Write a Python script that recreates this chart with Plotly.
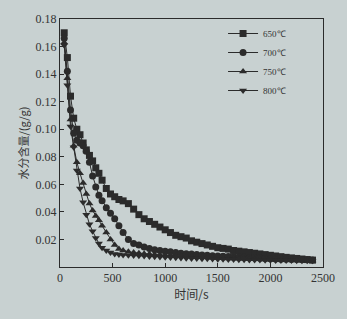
import plotly.graph_objects as go

t = [40, 70, 100, 130, 160, 190, 220, 250, 280, 310, 340, 370, 400, 440, 480, 520, 560, 600,
     650, 700, 750, 800, 850, 900, 950, 1000, 1050, 1100, 1150, 1200, 1250, 1300, 1350,
     1400, 1450, 1500, 1550, 1600, 1650, 1700, 1750, 1800, 1850, 1900, 1950, 2000, 2050,
     2100, 2150, 2200, 2250, 2300, 2350, 2400]

w650 = [0.170, 0.152, 0.124, 0.108, 0.100, 0.096, 0.090, 0.085, 0.081, 0.077, 0.072, 0.068,
        0.063, 0.057, 0.053, 0.051, 0.049, 0.048, 0.046, 0.042, 0.038, 0.035, 0.033, 0.031,
        0.029, 0.027, 0.025, 0.023, 0.022, 0.021, 0.019, 0.018, 0.017, 0.016, 0.015, 0.014,
        0.0135, 0.013, 0.012, 0.0115, 0.011, 0.0105, 0.010, 0.0095, 0.009, 0.0085, 0.008,
        0.0075, 0.007, 0.0066, 0.0062, 0.0058, 0.0054, 0.0050]

w700 = [0.166, 0.142, 0.114, 0.097, 0.092, 0.090, 0.088, 0.084, 0.076, 0.066, 0.058, 0.052,
        0.048, 0.043, 0.039, 0.035, 0.030, 0.025, 0.020, 0.017, 0.016, 0.0145, 0.0135, 0.0125,
        0.012, 0.0115, 0.011, 0.0105, 0.010, 0.0097, 0.0094, 0.0091, 0.0088, 0.0085, 0.0082,
        0.0080, 0.0078, 0.0076, 0.0074, 0.0072, 0.0070, 0.0068, 0.0066, 0.0064, 0.0062,
        0.0060, 0.0058, 0.0057, 0.0056, 0.0055, 0.0054, 0.0053, 0.0052, 0.0051]

w750 = [0.163, 0.137, 0.107, 0.088, 0.076, 0.068, 0.061, 0.053, 0.046, 0.041, 0.037, 0.034,
        0.030, 0.025, 0.020, 0.016, 0.013, 0.012, 0.011, 0.0105, 0.0100, 0.0097, 0.0094,
        0.0091, 0.0088, 0.0086, 0.0084, 0.0082, 0.0080, 0.0078, 0.0076, 0.0074, 0.0072,
        0.0070, 0.0068, 0.0066, 0.0064, 0.0062, 0.0061, 0.0060, 0.0059, 0.0058, 0.0057,
        0.0056, 0.0055, 0.0054, 0.0053, 0.0052, 0.0051, 0.0050, 0.0050, 0.0049, 0.0049,
        0.0048]

w800 = [0.161, 0.132, 0.102, 0.087, 0.070, 0.057, 0.047, 0.038, 0.031, 0.026, 0.021, 0.017,
        0.014, 0.012, 0.0105, 0.0095, 0.0090, 0.0088, 0.0085, 0.0083, 0.0081, 0.0079, 0.0077,
        0.0075, 0.0073, 0.0071, 0.0069, 0.0067, 0.0065, 0.0063, 0.0062, 0.0061, 0.0060,
        0.0059, 0.0058, 0.0057, 0.0056, 0.0055, 0.0054, 0.0053, 0.0052, 0.0051, 0.0050,
        0.0050, 0.0049, 0.0049, 0.0048, 0.0048, 0.0047, 0.0047, 0.0046, 0.0046, 0.0045,
        0.0045]

names = ["650℃", "700℃", "750℃", "800℃"]
series = [w650, w700, w750, w800]
symbols = ["square", "circle", "triangle-up", "triangle-down"]

ink = "#2b2b2b"
bg = "#c8d1d1"

fig = go.Figure()
for n, ys, s in zip(names, series, symbols):
    fig.add_trace(go.Scatter(
        x=t, y=ys, name=n, mode="lines+markers",
        line=dict(color=ink, width=1),
        marker=dict(symbol=s, size=7, color=ink),
    ))

serif = "Liberation Serif"
fig.update_layout(
    width=347, height=319,
    margin=dict(l=60, r=15, t=13, b=52),
    paper_bgcolor=bg, plot_bgcolor=bg,
    font=dict(family=serif, size=12, color="#333"),
    showlegend=True,
    legend=dict(x=0.62, y=1.0, xanchor="left", yanchor="top",
                bgcolor="rgba(0,0,0,0)", font=dict(family=serif, size=9),
                itemwidth=30, tracegroupgap=0),
    xaxis=dict(range=[0, 2500], tickvals=[0, 500, 1000, 1500, 2000, 2500],
               ticks="inside", ticklen=4, tickcolor=ink, showgrid=False, zeroline=False,
               showline=True, linecolor=ink, linewidth=1, mirror=True,
               title=dict(text="时间/s", font=dict(family="Noto Sans CJK SC", size=12),
                          standoff=6)),
    yaxis=dict(range=[0, 0.18], tickvals=[0.02, 0.04, 0.06, 0.08, 0.10, 0.12, 0.14, 0.16, 0.18],
               tickformat=".2f", ticks="inside", ticklen=4, tickcolor=ink,
               showgrid=False, zeroline=False,
               showline=True, linecolor=ink, linewidth=1, mirror=True,
               title=dict(text="水分含量/(g/g)", font=dict(family="Noto Sans CJK SC", size=11),
                          standoff=4)),
)

fig.write_html("out.html")
